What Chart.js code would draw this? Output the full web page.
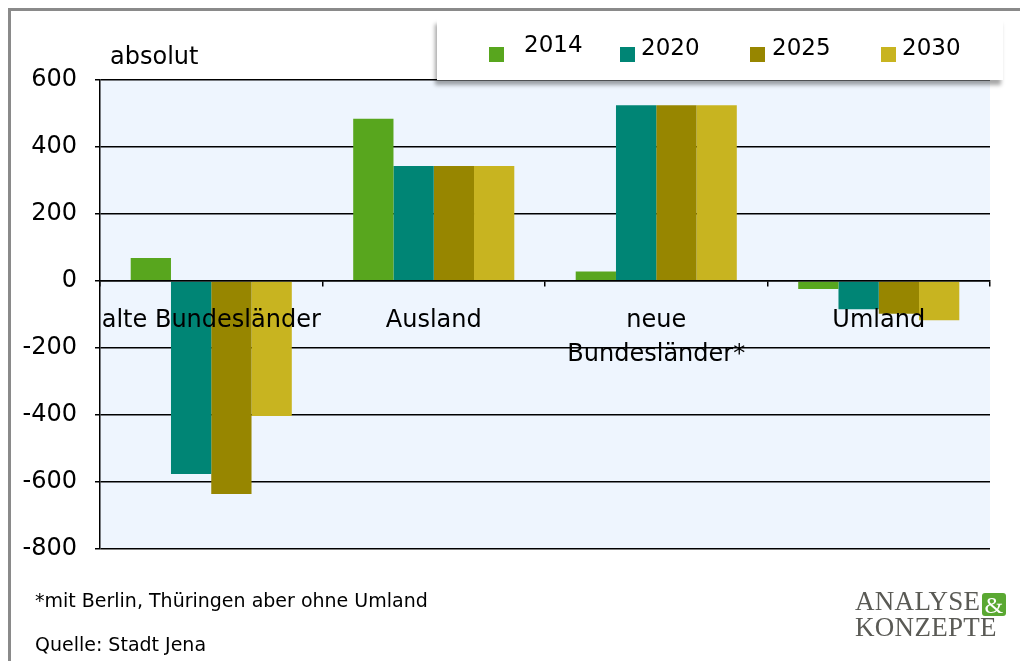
<!DOCTYPE html>
<html>
<head>
<meta charset="utf-8">
<script src="https://cdn.jsdelivr.net/npm/chart.js@4/dist/chart.umd.min.js"></script>
<style>
  html, body { margin: 0; padding: 0; background: #fff; }
  body { width: 1020px; height: 661px; position: relative; overflow: hidden; font-family: "DejaVu Sans", sans-serif; }
  #frameTop { position: absolute; left: 8px; top: 8px; width: 1012px; height: 3px; background: #8a8a8a; }
  #frameLeft { position: absolute; left: 8px; top: 8px; width: 3px; height: 653px; background: #8a8a8a; }
  canvas { position: absolute; left: 0; top: 0; }
  #unit { position: absolute; left: 110px; top: 42px; font-size: 24px; color: #000; }
  #legend { position: absolute; left: 437px; top: 19px; width: 566px; height: 61px; background: #fff;
            box-shadow: -2px 5px 4px rgba(0,0,0,0.35); }
  .li { position: absolute; top: 14px; font-size: 23px; color: #000; line-height: 30px; }
  #note1 { position: absolute; left: 35px; top: 589px; font-size: 19px; color: #000; }
  #note2 { position: absolute; left: 35px; top: 633px; font-size: 19px; color: #000; }
  #logo { position: absolute; left: 855px; top: 588px; font-family: "Liberation Serif", "DejaVu Serif", serif; color: #5a5a55; font-size: 27px; line-height: 26px; letter-spacing: 0.3px; white-space: nowrap; }
  #amp { position: absolute; left: 127px; top: 5px; background: #5aa832; color: #fff; border-radius: 3px; width: 24px; height: 23px; text-align: center; line-height: 24px; font-size: 24px; }
</style>
</head>
<body>
<div id="frameTop"></div>
<div id="frameLeft"></div>
<canvas id="c" width="1020" height="661"></canvas>
<div id="unit">absolut</div>
<div id="legend"></div>
<div id="note1">*mit Berlin, Thüringen aber ohne Umland</div>
<div id="note2">Quelle: Stadt Jena</div>
<div id="logo">ANALYSE<span id="amp">&amp;</span><br>KONZEPTE</div>
<script>
const categories = ["alte Bundesländer", "Ausland", ["neue", "Bundesländer*"], "Umland"];
const seriesNames = ["2014", "2020", "2025", "2030"];
const values2014 = [69, 484, 28, -24];
const values2020 = [-576, 343, 525, -84];
const values2025 = [-636, 343, 525, -98];
const values2030 = [-403, 343, 525, -117];
const yTicks = [-800, -600, -400, -200, 0, 200, 400, 600];
const colors = ["#58a61e", "#008575", "#978600", "#c8b420"];

const allValues = [values2014, values2020, values2025, values2030];

// HTML legend built from series names
const legendPos = [[489, 524], [620, 641], [750, 772], [881, 902]];
const lg = document.getElementById('legend');
seriesNames.forEach((n, i) => {
  const sw = document.createElement('div');
  sw.style.cssText = `position:absolute;left:${legendPos[i][0]-437}px;top:28px;width:15px;height:15px;background:${colors[i]}`;
  lg.appendChild(sw);
  const t = document.createElement('div');
  t.className = 'li';
  t.style.left = (legendPos[i][1]-437) + 'px';
  t.style.top = (i === 0 ? 10 : 13) + 'px';
  t.textContent = n;
  lg.appendChild(t);
});

const bgPlugin = {
  id: 'plotBg',
  beforeDraw(chart) {
    const {ctx, chartArea: a} = chart;
    ctx.save();
    ctx.fillStyle = '#eef5fe';
    ctx.fillRect(a.left, a.top, a.right - a.left, a.bottom - a.top);
    ctx.restore();
  }
};

new Chart(document.getElementById('c'), {
  type: 'bar',
  data: {
    labels: categories,
    datasets: seriesNames.map((n, i) => ({
      label: n,
      data: allValues[i],
      backgroundColor: colors[i],
      borderWidth: 0,
      categoryPercentage: 0.724,
      barPercentage: 1.0
    }))
  },
  options: {
    responsive: false,
    animation: false,
    events: [],
    layout: { padding: { left: 0, top: 80, right: 30, bottom: 112 } },
    plugins: { legend: { display: false }, tooltip: { enabled: false } },
    scales: {
      x: {
        position: { y: 0 },
        grid: { drawOnChartArea: false, drawTicks: true, tickLength: 5, color: '#000', lineWidth: 1.5, z: 1 },
        border: { display: true, color: '#000', width: 1.5, z: 1 },
        ticks: { z: 1, color: '#000', font: { family: 'DejaVu Sans', size: 24, lineHeight: 1.42 }, padding: 18, maxRotation: 0, autoSkip: false }
      },
      y: {
        min: -800, max: 600,
        afterBuildTicks(scale) { scale.ticks = yTicks.map(v => ({ value: v })); },
        afterFit(scale) { scale.width = 100; },
        grid: { color: '#000', lineWidth: 1.5, tickLength: 5 },
        border: { display: true, color: '#000', width: 1.5 },
        ticks: { color: '#000', font: { family: 'DejaVu Sans', size: 24 }, padding: 18 }
      }
    }
  },
  plugins: [bgPlugin]
});
</script>
</body>
</html>
